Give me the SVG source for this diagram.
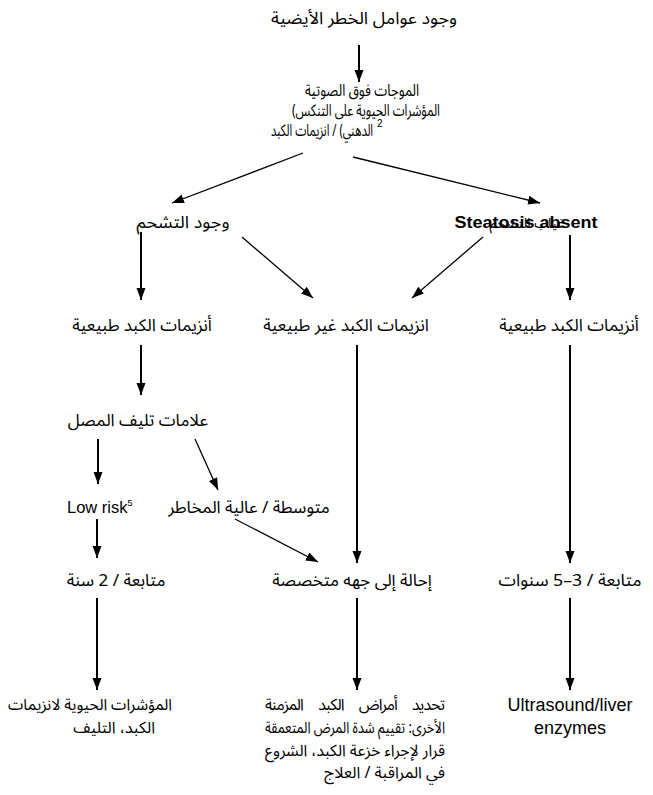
<svg xmlns="http://www.w3.org/2000/svg" width="653" height="795" viewBox="0 0 653 795">
<defs>
<marker id="ah" markerUnits="userSpaceOnUse" markerWidth="13" markerHeight="10" refX="12" refY="4.5" orient="auto">
<path d="M0,0 L12,4.5 L0,9 z" fill="#000"/>
</marker>
<style>
.ar{font-family:"Noto Sans Arabic","DejaVu Sans",sans-serif;font-size:17px;fill:#000}
.en{font-family:"Liberation Sans",Arial,sans-serif;font-size:17px;fill:#000}
.c{text-anchor:middle}
.e{text-anchor:end}
.v{stroke:#000;stroke-width:2;fill:none;marker-end:url(#ah)}
.d{stroke:#000;stroke-width:1.3;fill:none;marker-end:url(#ah)}
</style>
</defs>
<rect width="653" height="795" fill="#fff"/>
<g id="connectors">
<line class="v" x1="359" y1="45" x2="359" y2="82"/>
<line class="d" x1="303" y1="153" x2="172" y2="203"/>
<line class="d" x1="353" y1="157" x2="540" y2="203"/>
<line class="v" x1="141" y1="232" x2="141" y2="300"/>
<line class="d" x1="242" y1="237" x2="313" y2="298"/>
<line class="d" x1="483" y1="237" x2="412" y2="298"/>
<line class="v" x1="570" y1="235" x2="570" y2="300"/>
<line class="v" x1="141" y1="345" x2="141" y2="395"/>
<line class="v" x1="357" y1="345" x2="357" y2="563"/>
<line class="v" x1="570" y1="345" x2="570" y2="563"/>
<line class="v" x1="98" y1="439" x2="98" y2="484"/>
<line class="d" x1="195" y1="439" x2="218" y2="490"/>
<line class="v" x1="97" y1="519" x2="97" y2="558"/>
<line class="d" x1="235" y1="519" x2="318" y2="562"/>
<line class="v" x1="97" y1="598" x2="97" y2="690"/>
<line class="v" x1="357" y1="598" x2="357" y2="690"/>
<line class="v" x1="570" y1="598" x2="570" y2="690"/>
</g>
<g id="n-risk"><text class="ar c" x="364" y="24" textLength="186" lengthAdjust="spacingAndGlyphs">وجود عوامل الخطر الأيضية</text></g>
<g id="n-us">
<text class="ar c" x="362" y="96" style="font-size:16.5px" textLength="114" lengthAdjust="spacingAndGlyphs">الموجات فوق الصوتية</text>
<text class="ar c" x="366" y="116" style="font-size:16.5px" textLength="148" lengthAdjust="spacingAndGlyphs">(المؤشرات الحيوية على التنكس</text>
<text class="ar e" x="373" y="136" style="font-size:16.5px" textLength="102" lengthAdjust="spacingAndGlyphs">الدهني) / انزيمات الكبد</text>
<text class="en" x="377" y="127" style="font-size:10px">2</text>
</g>
<g id="n-steatosis"><text class="ar c" x="183" y="228" textLength="93" lengthAdjust="spacingAndGlyphs">وجود التشحم</text></g>
<g id="n-absent">
<text class="ar c" x="527" y="228" style="font-size:14px">غياب التشحم</text>
<text class="en c" x="526" y="228" style="font-weight:bold" textLength="143" lengthAdjust="spacingAndGlyphs">Steatosis absent</text>
</g>
<g id="n-normal1"><text class="ar c" x="142" y="331">أنزيمات الكبد طبيعية</text></g>
<g id="n-abnormal"><text class="ar c" x="346" y="331">انزيمات الكبد غير طبيعية</text></g>
<g id="n-normal2"><text class="ar c" x="569" y="331">أنزيمات الكبد طبيعية</text></g>
<g id="n-fib"><text class="ar c" x="138" y="426">علامات تليف المصل</text></g>
<g id="n-low"><text class="en" x="67" y="513" style="font-size:16.5px">Low risk<tspan dy="-7" style="font-size:9px">5</tspan></text></g>
<g id="n-high"><text class="ar c" x="249" y="513">متوسطة / عالية المخاطر</text></g>
<g id="n-fu2"><text class="ar c" x="116" y="586">متابعة / 2 سنة</text></g>
<g id="n-refer"><text class="ar c" x="352" y="586">إحالة إلى جهه متخصصة</text></g>
<g id="n-fu35"><text class="ar c" x="570" y="586" textLength="143" lengthAdjust="spacingAndGlyphs">متابعة / 3–5 سنوات</text></g>
<g id="n-bio">
<text class="ar e" x="172" y="710" style="font-size:16px" textLength="164" lengthAdjust="spacingAndGlyphs">المؤشرات الحيوية لانزيمات</text>
<text class="ar e" x="155" y="733" style="font-size:16px">الكبد، التليف</text>
</g>
<g id="n-chronic">
<text class="ar e" x="445" y="710" style="font-size:16px;word-spacing:12px" textLength="180" lengthAdjust="spacing">تحديد أمراض الكبد المزمنة</text>
<text class="ar e" x="445" y="733" style="font-size:16px" textLength="180" lengthAdjust="spacingAndGlyphs">الأخرى: تقييم شدة المرض المتعمقة</text>
<text class="ar e" x="445" y="756" style="font-size:16px" textLength="180" lengthAdjust="spacingAndGlyphs">قرار لإجراء خزعة الكبد، الشروع</text>
<text class="ar e" x="445" y="778" style="font-size:16px">في المراقبة / العلاج</text>
</g>
<g id="n-usliver">
<text class="en c" x="570" y="711" style="font-size:18px">Ultrasound/liver</text>
<text class="en c" x="570" y="734" style="font-size:18px">enzymes</text>
</g>
</svg>
